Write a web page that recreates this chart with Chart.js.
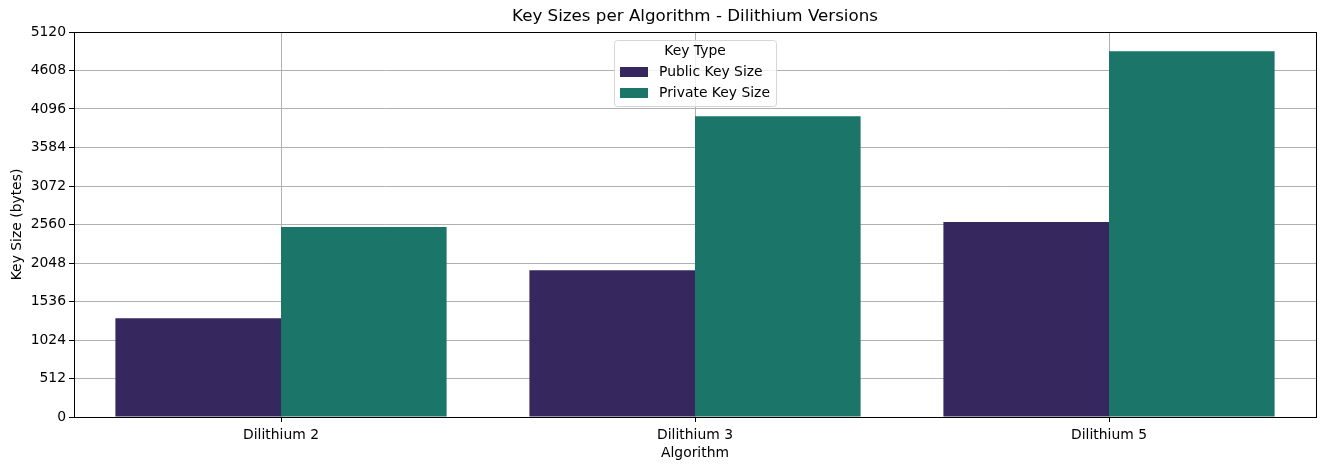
<!DOCTYPE html>
<html>
<head>
<meta charset="utf-8">
<script src="https://cdn.jsdelivr.net/npm/chart.js@4/dist/chart.umd.min.js"></script>
<style>
html,body{margin:0;padding:0;background:#fff;}
#wrap{width:1324px;height:470px;position:relative;}
</style>
</head>
<body>
<div id="wrap"><canvas id="c" width="1324" height="470"></canvas></div>
<script>
const categories = ["Dilithium 2", "Dilithium 3", "Dilithium 5"];
const publicKeySizes = [1312, 1952, 2592];
const privateKeySizes = [2528, 4000, 4864];
const seriesNames = ["Public Key Size", "Private Key Size"];
const yTicks = [0, 512, 1024, 1536, 2048, 2560, 3072, 3584, 4096, 4608, 5120];

const FONT = "'DejaVu Sans', sans-serif";
const colors = ["#37275f", "#1b7569"];

const framePlugin = {
  id: 'frame',
  afterDraw(chart) {
    const {ctx, chartArea: a} = chart;
    ctx.save();
    ctx.strokeStyle = '#000';
    ctx.lineWidth = 1;
    ctx.strokeRect(Math.round(a.left) + 0.5, Math.round(a.top) + 0.5, Math.round(a.right - a.left), Math.round(a.bottom - a.top));
    // title
    ctx.fillStyle = '#000';
    ctx.font = "16.7px " + FONT;
    ctx.textAlign = 'center';
    ctx.textBaseline = 'middle';
    ctx.fillText("Key Sizes per Algorithm - Dilithium Versions", (a.left + a.right) / 2, 17);
    // legend
    const lx = 614, ly = 40, lw = 162, lh = 66;
    ctx.fillStyle = 'rgba(255,255,255,0.8)';
    ctx.strokeStyle = '#d6d6d6';
    ctx.beginPath();
    ctx.roundRect(lx + 0.5, ly + 0.5, lw, lh, 3);
    ctx.fill();
    ctx.stroke();
    ctx.fillStyle = '#000';
    ctx.font = "13.9px " + FONT;
    ctx.textAlign = 'center';
    ctx.fillText("Key Type", lx + lw / 2, 51);
    chart.data.datasets.forEach((ds, i) => {
      const y = 72 + i * 21;
      ctx.fillStyle = ds.backgroundColor;
      ctx.fillRect(620, y - 5, 28, 10);
      ctx.fillStyle = '#000';
      ctx.textAlign = 'left';
      ctx.fillText(ds.label, 659, y);
    });
    ctx.restore();
  }
};

new Chart(document.getElementById('c'), {
  type: 'bar',
  data: {
    labels: categories,
    datasets: [
      {label: seriesNames[0], data: publicKeySizes, backgroundColor: colors[0]},
      {label: seriesNames[1], data: privateKeySizes, backgroundColor: colors[1]}
    ]
  },
  options: {
    responsive: false,
    animation: false,
    devicePixelRatio: 1,
    layout: {padding: {left: 0, right: 8, top: 32, bottom: 0}},
    datasets: {bar: {categoryPercentage: 0.8, barPercentage: 1.0, borderWidth: 0}},
    plugins: {legend: {display: false}, title: {display: false}, tooltip: {enabled: false}},
    scales: {
      x: {
        z: 1,
        offset: true,
        grid: {offset: false, color: '#b0b0b0', lineWidth: 1, tickColor: '#000', tickLength: 5, drawTicks: true},
        border: {display: true, color: '#000'},
        ticks: {color: '#000', font: {family: FONT, size: 13.9}, padding: 5},
        title: {display: true, text: 'Algorithm', color: '#000', font: {family: FONT, size: 13.9}, padding: {top: 0, bottom: 8}},
        afterFit(s) { s.height = 53; }
      },
      y: {
        z: 1,
        min: 0, max: 5120,
        afterBuildTicks(s) { s.ticks = yTicks.map(v => ({value: v})); },
        grid: {color: '#b0b0b0', lineWidth: 1, tickColor: '#000', tickLength: 5, drawTicks: true},
        border: {display: true, color: '#000'},
        ticks: {color: '#000', font: {family: FONT, size: 13.9}, padding: 3, callback: (v) => String(v)},
        title: {display: true, text: 'Key Size (bytes)', color: '#000', font: {family: FONT, size: 13.9}, padding: {top: 9, bottom: 0}},
        afterFit(s) { s.width = 74; }
      }
    }
  },
  plugins: [framePlugin]
});
</script>
</body>
</html>
